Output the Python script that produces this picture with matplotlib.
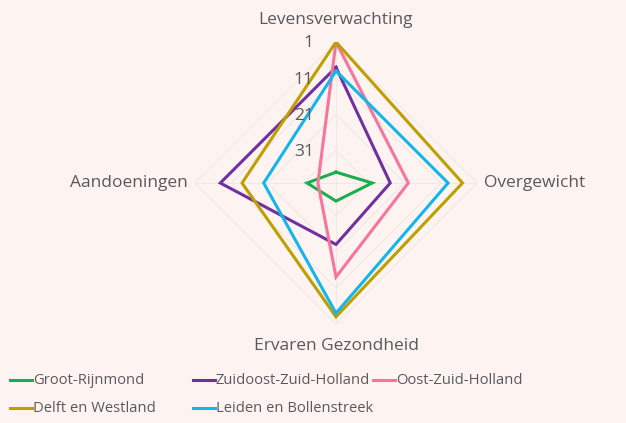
import numpy as np
import matplotlib
matplotlib.use("Agg")
import matplotlib.pyplot as plt
from matplotlib.lines import Line2D

categories = ["Levensverwachting", "Overgewicht", "Ervaren Gezondheid", "Aandoeningen"]
series_names = ["Groot-Rijnmond", "Zuidoost-Zuid-Holland", "Oost-Zuid-Holland",
                "Delft en Westland", "Leiden en Bollenstreek"]
groot_rijnmond = [37, 30, 35, 32]
zuidoost_zh = [8, 25, 23, 8]
oost_zh = [1, 20, 14, 35]
delft_westland = [1, 5, 3, 14]
leiden_bollenstreek = [9, 9, 4, 20]
tick_values = [1, 11, 21, 31]
rank_center = 40

series = [groot_rijnmond, zuidoost_zh, oost_zh, delft_westland, leiden_bollenstreek]
colors = ["#1BAE4E", "#7030A0", "#F7749C", "#BF9F00", "#13B5EA"]
bg = "#FDF4F2"
txt = "#595959"
grid_c = "#EFE8E6"

plt.rcParams['font.family'] = ['Open Sans', 'DejaVu Sans']

fig = plt.figure(figsize=(6.26, 4.23), dpi=100, facecolor=bg)
W, H = 626, 423
cx, cy, R = 336, 183, 141
ax = fig.add_axes([(cx - R) / W, (H - cy - R) / H, 2 * R / W, 2 * R / H], projection='polar')
ax.set_facecolor(bg)
ax.patch.set_alpha(0)
ax.set_theta_zero_location('N')
ax.set_theta_direction(-1)
rmax = rank_center - 1
ax.set_ylim(0, rmax)
ax.grid(False)
ax.spines['polar'].set_visible(False)
ax.set_xticks([])
ax.set_yticks([])

n = len(categories)
angles = np.arange(n) * 2 * np.pi / n
ang_closed = np.append(angles, angles[0])

# gridlines (diamonds) and spokes
for tv in tick_values:
    r = rank_center - tv
    ax.plot(ang_closed, [r] * (n + 1), color=grid_c, lw=0.8, zorder=1)
for a in angles:
    ax.plot([a, a], [0, rmax], color=grid_c, lw=0.8, zorder=1)

for vals, c in zip(series, colors):
    r = [rank_center - v for v in vals]
    ax.plot(ang_closed, r + [r[0]], color=c, lw=2.2, zorder=3, solid_joinstyle='miter')

# radial tick labels
for tv in tick_values:
    ax.annotate(str(tv), xy=(0, rank_center - tv), xytext=(-16, -1), textcoords='offset points',
                ha='right', va='center', fontsize=12.5, color=txt, zorder=4)

# category labels
fs = 12.5
ax.text(angles[0], rmax * 163 / 141, categories[0], ha='center', va='center', fontsize=fs, color=txt)
ax.text(angles[1], rmax * 148 / 141, categories[1], ha='left', va='center', fontsize=fs, color=txt)
ax.text(angles[2], rmax * 163 / 141, categories[2], ha='center', va='center', fontsize=fs, color=txt)
ax.text(angles[3], rmax * 148 / 141, categories[3], ha='right', va='center', fontsize=fs, color=txt)

# legend (manual Excel-like grid)
slots = [(10, 380), (193, 380), (373, 380), (10, 408), (193, 408)]
for (x, y), name, c in zip(slots, series_names, colors):
    fig.add_artist(Line2D([x / W, (x + 22) / W], [1 - y / H, 1 - y / H], color=c, lw=2.2,
                          transform=fig.transFigure))
    fig.text((x + 23) / W, 1 - y / H, name, ha='left', va='center', fontsize=10.6, color=txt)

fig.savefig("out.png", dpi=100, facecolor=bg)
